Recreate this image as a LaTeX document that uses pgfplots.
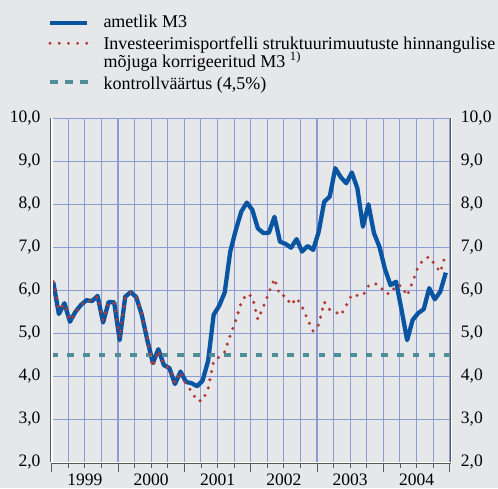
\documentclass[border=0pt]{standalone}
\usepackage{pgfplots}
\pgfplotsset{compat=1.18}
\usepackage{pgfplotstable}
\usepackage{fontspec}
\setmainfont{Liberation Serif}

\definecolor{bg}{RGB}{230,231,233}
\definecolor{gridblue}{RGB}{141,155,211}
\definecolor{blueM}{RGB}{10,85,162}
\definecolor{redM}{RGB}{178,58,52}
\definecolor{tealM}{RGB}{79,142,153}
\definecolor{axdark}{RGB}{90,90,90}

% month index (0 = Jan 1999), value in %
\pgfplotstableread{
m v
0 6.18
1 5.45
2 5.70
3 5.27
4 5.50
5 5.66
6 5.77
7 5.75
8 5.87
9 5.25
10 5.73
11 5.72
12 4.84
13 5.85
14 5.96
15 5.84
16 5.43
17 4.84
18 4.31
19 4.63
20 4.26
21 4.19
22 3.82
23 4.11
24 3.87
25 3.84
26 3.77
27 3.90
28 4.36
29 5.43
30 5.64
31 5.95
32 6.90
33 7.40
34 7.83
35 8.04
36 7.87
37 7.44
38 7.33
39 7.34
40 7.71
41 7.13
42 7.08
43 6.99
44 7.19
45 6.90
46 7.03
47 6.94
48 7.36
49 8.06
50 8.18
51 8.84
52 8.63
53 8.49
54 8.74
55 8.37
56 7.48
57 8.00
58 7.33
59 7.01
60 6.49
61 6.12
62 6.20
63 5.54
64 4.84
65 5.31
66 5.47
67 5.56
68 6.05
69 5.79
70 5.97
71 6.41
}\ametlik

\pgfplotstableread{
m v
0 6.20
1 5.55
2 5.68
3 5.30
4 5.48
5 5.65
6 5.77
7 5.75
8 5.85
9 5.30
10 5.72
11 5.70
12 4.90
13 5.85
14 5.95
15 5.85
16 5.45
17 4.85
18 4.22
19 4.60
20 4.25
21 4.18
22 3.85
23 4.10
24 3.82
25 3.65
26 3.43
27 3.43
28 3.72
29 4.35
30 4.45
31 4.57
32 4.95
33 5.30
34 5.72
35 5.92
36 5.85
37 5.32
38 5.62
39 5.95
40 6.27
41 5.88
42 5.87
43 5.66
44 5.82
45 5.62
46 5.32
47 5.05
48 5.20
49 5.73
50 5.55
51 5.50
52 5.42
53 5.65
54 5.90
55 5.88
56 5.88
57 6.10
58 6.16
59 6.12
60 5.93
61 5.92
62 6.12
63 6.10
64 5.87
65 6.20
66 6.55
67 6.72
68 6.78
69 6.60
70 6.42
71 6.85
}\korrig

\pgfplotsset{
  chartbase/.style={
    at={(51.7pt,25.7pt)}, anchor=south west,
    scale only axis, width=398pt, height=344pt,
    xmin=1999, xmax=2005, ymin=2, ymax=10,
    axis line style={draw=none},
    major tick length=0pt,
    tick label style={font=\fontsize{17.5}{20}\selectfont},
    /pgf/number format/fixed,
    /pgf/number format/fixed zerofill,
    /pgf/number format/precision=1,
    /pgf/number format/use comma,
    /pgf/number format/assume math mode=true,
  },
}

\begin{document}
\begin{tikzpicture}
\fill[bg] (0pt,0pt) rectangle (498pt,488pt);
\useasboundingbox (0pt,0pt) rectangle (498pt,488pt);

% grid: quarters and whole percent
\foreach \k in {0,...,24}{
  \pgfmathsetmacro{\xx}{51.7+\k*16.583}
  \draw[draw=gridblue, line width=1.1pt] (\xx pt,25.7pt) -- (\xx pt,369.7pt);
}
\foreach \j in {0,...,8}{
  \pgfmathsetmacro{\yy}{25.7+\j*43}
  \draw[draw=gridblue, line width=1.1pt] (51.7pt,\yy pt) -- (449.7pt,\yy pt);
}

% data, years, left tick labels
\begin{axis}[chartbase,
  xtick={1999.5,2000.5,2001.5,2002.5,2003.5,2004.5},
  xticklabels={1999,2000,2001,2002,2003,2004},
  xticklabel style={inner sep=0pt, anchor=north, yshift=-11.5pt},
  ytick={2,3,...,10},
  yticklabel style={inner sep=0pt, anchor=east, xshift=-11pt},
]
\addplot[blueM, line width=4.3pt, line join=round] table[x expr=1999+(\thisrow{m}+0.3)/12, y=v] {\ametlik};
\addplot[tealM, line width=3.8pt, dash pattern=on 6.5pt off 9.2pt] coordinates {(1999,4.5) (2005,4.5)};
\addplot[redM, line width=3.4pt, line cap=round, dash pattern=on 0pt off 8.3pt] table[x expr=1999+(\thisrow{m}+0.3)/12, y=v] {\korrig};
\end{axis}

% right tick labels
\begin{axis}[chartbase,
  xtick=\empty,
  ytick={2,3,...,10},
  yticklabel pos=right,
  yticklabel style={inner sep=0pt, anchor=west, xshift=11pt},
]
\end{axis}

% axis frame
\draw[axdark, line width=0.7pt] (50.5pt,25.7pt) -- (50.5pt,369.7pt);
\draw[white, line width=1.6pt] (51.8pt,25.7pt) -- (51.8pt,369.7pt);
\draw[axdark, line width=1pt] (450.2pt,25pt) -- (450.2pt,369.7pt);
\draw[white, line width=1.6pt] (451.6pt,24pt) -- (451.6pt,369.7pt);
\draw[white, line width=1.6pt] (50.5pt,25.7pt) -- (452.3pt,25.7pt);
\draw[axdark, line width=0.8pt] (50.5pt,24.3pt) -- (450.5pt,24.3pt);
\foreach \k in {0,...,24}{
  \pgfmathsetmacro{\xx}{51.7+\k*16.583}
  \pgfmathtruncatemacro{\yr}{mod(\k,4)}
  \ifnum\yr=0
    \draw[axdark, line width=0.8pt] (\xx pt,24.3pt) -- (\xx pt,16pt);
  \else
    \draw[axdark, line width=0.8pt] (\xx pt,24.3pt) -- (\xx pt,20.5pt);
  \fi
}

% legend
\draw[blueM, line width=4.3pt] (50pt,465.3pt) -- (87pt,465.3pt);
\draw[redM, line width=3.2pt, line cap=round, dash pattern=on 0pt off 9.2pt] (50pt,444.7pt) -- (88pt,444.7pt);
\draw[tealM, line width=3.8pt, dash pattern=on 8.3pt off 6.7pt] (50pt,406.3pt) -- (88pt,406.3pt);
\begin{scope}[every node/.style={anchor=base west, inner sep=0pt, font=\fontsize{18}{20}\selectfont}]
\node at (103.3pt,460.7pt) {ametlik M3};
\node at (103.3pt,438.7pt) {Investeerimisportfelli struktuurimuutuste hinnangulise};
\node at (103.3pt,420.8pt) {mõjuga korrigeeritud M3 \textsuperscript{1)}};
\node at (103.3pt,398.7pt) {kontrollväärtus (4,5\%)};
\end{scope}
\end{tikzpicture}
\end{document}
